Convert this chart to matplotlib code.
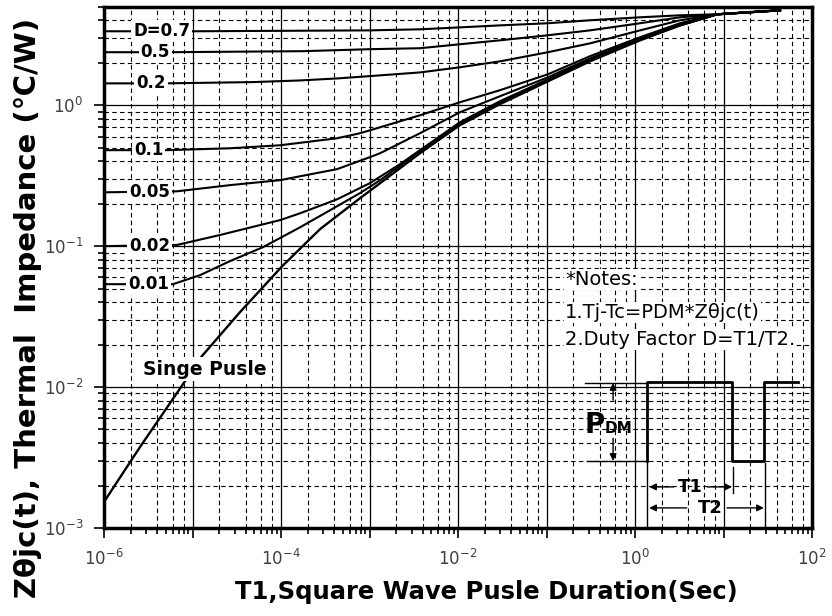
import matplotlib.pyplot as plt
import numpy as np
from matplotlib.ticker import LogLocator, FuncFormatter, NullFormatter

# curve data (t in s, Z in C/W)
t_07 = [1e-6, 9.87e-6, 1.01e-3, 3.72e-3, 1.05e-2, 2.99e-2, 0.104, 0.310, 1.14, 3.22, 8.45, 43.5]
z_07 = [3.35, 3.35, 3.40, 3.46, 3.57, 3.69, 3.82, 4.01, 4.21, 4.35, 4.42, 4.72]

t_05 = [1e-6, 5.57e-6, 1.77e-4, 1.01e-3, 3.72e-3, 1.05e-2, 2.99e-2, 0.104, 0.310, 1.14, 3.22, 8.45, 43.5]
z_05 = [2.38, 2.38, 2.42, 2.50, 2.54, 2.71, 2.89, 3.14, 3.40, 3.82, 4.21, 4.42, 4.72]

t_02 = [1e-6, 4.89e-6, 4.83e-5, 1.64e-4, 4.30e-4, 1.01e-3, 3.72e-3, 1.05e-2, 2.99e-2, 0.104,
        0.310, 1.14, 3.22, 8.45, 43.5]
z_02 = [1.43, 1.43, 1.46, 1.50, 1.55, 1.61, 1.71, 1.86, 2.05, 2.38, 2.75, 3.40, 4.01, 4.42, 4.72]

t_01 = [1e-6, 5.15e-6, 2.65e-5, 9.75e-5, 4.30e-4, 7.82e-4, 1.32e-3, 3.72e-3, 1.05e-2, 2.99e-2,
        0.104, 0.310, 1.14, 3.22, 8.45, 43.5]
z_01 = [0.480, 0.480, 0.495, 0.520, 0.583, 0.633, 0.698, 0.849, 1.05, 1.28, 1.66, 2.23, 3.04,
        3.82, 4.42, 4.72]

t_005 = [1e-6, 6.68e-6, 2.65e-5, 9.75e-5, 4.30e-4, 1.01e-3, 1.32e-3, 3.72e-3, 1.05e-2, 2.99e-2,
         0.104, 0.310, 1.14, 3.22, 8.45, 43.5]
z_005 = [0.241, 0.245, 0.271, 0.294, 0.352, 0.428, 0.457, 0.633, 0.892, 1.16, 1.58, 2.15, 2.99,
         3.75, 4.42, 4.72]

t_002 = [1e-6, 6.68e-6, 2.05e-5, 9.75e-5, 1.64e-4, 4.30e-4, 1.01e-3, 2.21e-3, 3.72e-3, 1.05e-2,
         2.99e-2, 0.104, 0.310, 1.14, 3.22, 8.45, 43.5]
z_002 = [0.100, 0.102, 0.120, 0.153, 0.171, 0.215, 0.280, 0.382, 0.480, 0.757, 1.07, 1.53, 2.12,
         2.94, 3.69, 4.42, 4.72]

t_001 = [1e-6, 6.03e-6, 1.22e-5, 2.65e-5, 6.27e-5, 1.64e-4, 4.30e-4, 7.82e-4, 1.32e-3, 3.72e-3,
         1.05e-2, 2.99e-2, 0.104, 0.310, 1.14, 3.22, 8.45, 43.5]
z_001 = [0.0537, 0.0537, 0.0623, 0.0783, 0.0984, 0.136, 0.192, 0.238, 0.294, 0.472, 0.739, 1.04,
         1.50, 2.09, 2.91, 3.69, 4.42, 4.72]

t_sp = [1e-6, 2.55e-6, 8.23e-6, 1.28e-5, 3.44e-5, 1.03e-4, 2.76e-4, 7.82e-4, 1.32e-3, 3.72e-3,
        1.05e-2, 2.99e-2, 0.104, 0.310, 1.14, 3.22, 8.45, 43.5]
z_sp = [0.00153, 0.00375, 0.0110, 0.0166, 0.034, 0.072, 0.132, 0.219, 0.280, 0.457, 0.722,
        1.02, 1.48, 2.05, 2.89, 3.69, 4.42, 4.72]

curves = [(t_07, z_07), (t_05, z_05), (t_02, z_02), (t_01, z_01),
          (t_005, z_005), (t_002, z_002), (t_001, z_001)]
d_labels = ['D=0.7', '0.5', '0.2', '0.1', '0.05', '0.02', '0.01']
d_label_x = [4.5e-6, 3.8e-6, 3.4e-6, 3.2e-6, 3.3e-6, 3.3e-6, 3.2e-6]

fig = plt.figure(figsize=(8.32, 6.16), dpi=100)
ax = fig.add_axes([0.125, 0.143, 0.851, 0.846])
ax.set_xscale('log')
ax.set_yscale('log')
ax.set_xlim(1e-6, 1e2)
ax.set_ylim(1e-3, 5)

# grid: solid decades, dashed minors (x only at 2,4,6,8)
ax.grid(which='major', color='k', lw=0.9, ls='-', zorder=0)
ax.grid(which='minor', axis='y', color='k', lw=0.8, ls=(0, (4, 3)), zorder=0)
for dec in range(-6, 2):
    for s in (2, 4, 6, 8):
        ax.axvline(s * 10.0 ** dec, color='k', lw=0.8, ls=(0, (4, 3)), zorder=0)

for t, z in curves:
    ax.plot(t, z, color='k', lw=1.5, zorder=3)
ax.plot(t_sp, z_sp, color='k', lw=1.7, zorder=3)

for lab, lx, (t, z) in zip(d_labels, d_label_x, curves):
    ax.text(lx, z[0], lab, fontsize=12, fontweight='bold', ha='center', va='center',
            zorder=5, bbox=dict(boxstyle='square,pad=0.12', fc='white', ec='none'))
ax.text(1.38e-5, 0.0134, 'Singe Pusle', fontsize=13.5, fontweight='bold', ha='center',
        va='center', zorder=5, bbox=dict(boxstyle='square,pad=0.15', fc='white', ec='none'))

# notes
note_box = dict(boxstyle='square,pad=0.05', fc='white', ec='none')
ax.text(0.651, 0.476, '*Notes:', transform=ax.transAxes, fontsize=14, va='center',
        zorder=5, bbox=note_box)
ax.text(0.651, 0.413, '1.Tj-Tc=PDM*Zθjc(t)', transform=ax.transAxes, fontsize=14,
        va='center', zorder=5, bbox=note_box)
ax.text(0.651, 0.361, '2.Duty Factor D=T1/T2.', transform=ax.transAxes, fontsize=14,
        va='center', zorder=5, bbox=note_box)

# square wave sketch (axes fraction)
tr = ax.transAxes
ax.plot([0.767, 0.767, 0.887, 0.887, 0.932, 0.932, 0.980],
        [0.1286, 0.280, 0.280, 0.1286, 0.1286, 0.280, 0.280],
        transform=tr, color='k', lw=2, zorder=4)
ax.plot([0.679, 0.767], [0.278, 0.278], transform=tr, color='k', lw=1, zorder=4)
ax.plot([0.682, 0.767], [0.1286, 0.1286], transform=tr, color='k', lw=1, zorder=4)
ax.plot([0.767, 0.767], [0.1286, 0.0], transform=tr, color='k', lw=1, zorder=4)
ax.plot([0.888, 0.888], [0.117, 0.067], transform=tr, color='k', lw=1, zorder=4)
ax.plot([0.934, 0.934], [0.125, 0.0], transform=tr, color='k', lw=1, zorder=4)

arr = dict(arrowstyle='-|>', color='k', lw=1, mutation_scale=10, shrinkA=0, shrinkB=0)
ax.annotate('', xy=(0.719, 0.278), xytext=(0.719, 0.245), xycoords=tr, textcoords=tr,
            arrowprops=arr, zorder=4)
ax.annotate('', xy=(0.719, 0.1286), xytext=(0.719, 0.172), xycoords=tr, textcoords=tr,
            arrowprops=arr, zorder=4)
ax.text(0.707, 0.182, 'P', transform=tr, fontsize=20, fontweight='bold', ha='right',
        va='baseline', zorder=5)
ax.text(0.707, 0.182, 'DM', transform=tr, fontsize=11, fontweight='bold', ha='left',
        va='baseline', zorder=5)

ax.annotate('', xy=(0.770, 0.0787), xytext=(0.805, 0.0787), xycoords=tr, textcoords=tr,
            arrowprops=arr, zorder=4)
ax.annotate('', xy=(0.887, 0.0787), xytext=(0.852, 0.0787), xycoords=tr, textcoords=tr,
            arrowprops=arr, zorder=4)
ax.text(0.828, 0.0787, 'T1', transform=tr, fontsize=13, fontweight='bold', ha='center',
        va='center', zorder=5)
ax.annotate('', xy=(0.770, 0.0384), xytext=(0.823, 0.0384), xycoords=tr, textcoords=tr,
            arrowprops=arr, zorder=4)
ax.annotate('', xy=(0.932, 0.0384), xytext=(0.880, 0.0384), xycoords=tr, textcoords=tr,
            arrowprops=arr, zorder=4)
ax.text(0.856, 0.0384, 'T2', transform=tr, fontsize=13, fontweight='bold', ha='center',
        va='center', zorder=5)

# axes and ticks
def even_decades(v, pos):
    e = int(round(np.log10(v)))
    return r'$\mathdefault{10^{%d}}$' % e if e % 2 == 0 else ''

ax.xaxis.set_major_locator(LogLocator(base=10, numticks=20))
ax.xaxis.set_major_formatter(FuncFormatter(even_decades))
ax.xaxis.set_minor_locator(LogLocator(base=10, subs=np.arange(2, 10), numticks=20))
ax.xaxis.set_minor_formatter(NullFormatter())
ax.yaxis.set_minor_locator(LogLocator(base=10, subs=np.arange(2, 10), numticks=20))
ax.yaxis.set_minor_formatter(NullFormatter())
ax.tick_params(which='both', direction='out', color='k', labelcolor='#404040',
               labelsize=12, width=1.2)
ax.tick_params(which='major', length=7, pad=8)
ax.tick_params(which='minor', length=4)
for sp in ax.spines.values():
    sp.set_linewidth(2.5)

ax.set_xlabel('T1,Square Wave Pusle Duration(Sec)', fontsize=17.5, fontweight='bold')
ax.xaxis.set_label_coords(0.54, -0.10)
ax.set_ylabel('Zθjc(t), Thermal  Impedance (℃/W)', fontsize=21, fontweight='bold')
ax.yaxis.set_label_coords(-0.088, 0.422)

fig.savefig('out.png', dpi=100)
